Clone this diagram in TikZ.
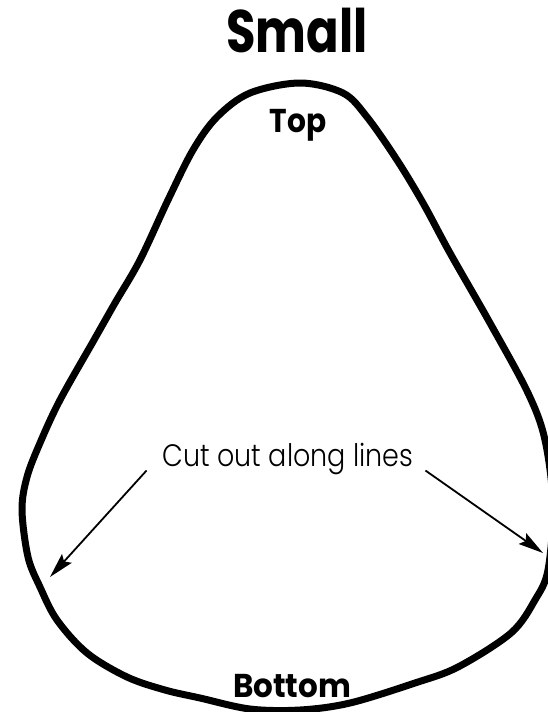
\documentclass[tikz,border=0pt]{standalone}
\usepackage{fontspec}
\setmainfont{Poppins}
\newfontfamily\lightfont{Poppins Light}
\usetikzlibrary{arrows.meta}
\tikzset{
  heading/.style={font=\bfseries\fontsize{60}{60}\selectfont, inner sep=0pt, anchor=base, xscale=0.8},
  endlabel/.style={font=\bfseries\fontsize{33}{33}\selectfont, inner sep=0pt, anchor=base},
  cutlabel/.style={font=\lightfont\fontsize{31}{31}\selectfont, inner sep=0pt, anchor=base, xscale=0.87},
  cutarrow/.style={line width=1.8pt, -{Stealth[length=25pt,width=13pt,inset=4pt]}}
}
\begin{document}
\begin{tikzpicture}[x=1pt,y=-1pt]
  \useasboundingbox (0,0) rectangle (548,712);
  %The outline to cut along:
  \draw[line width=7pt, line join=round] plot[smooth cycle, tension=0.55] coordinates {
    (300,83) (343,93) (367,117) (397,160) (423,203) (450,253) (490,323)
    (528,393) (545,440) (553,505) (548,570) (535,600) (511,633) (458,667)
    (415,683) (350,703) (300,710) (250,709) (200,698) (165,690) (127,677)
    (87,653) (57,620) (40,587) (28,557) (22,510) (27,477) (40,443) (60,400)
    (94,340) (115,303) (140,260) (168,200) (193,150) (217,117) (250,93)};
  %The labels:
  \node[heading] (title) at (297,52) {Small};
  \node[endlabel, xscale=0.9] (top) at (298,132) {Top};
  \node[endlabel, xscale=0.94] (bottom) at (292,697) {Bottom};
  \node[cutlabel] (cut) at (288,466) {Cut out along lines};
  %The two arrows pointing at the line:
  \coordinate (lefttip) at (50,577);
  \coordinate (righttip) at (543,553);
  \draw[cutarrow] ([xshift=-16pt,yshift=4pt]cut.south west) -- (lefttip);
  \draw[cutarrow] ([xshift=12pt,yshift=4pt]cut.south east) -- (righttip);
\end{tikzpicture}
\end{document}
